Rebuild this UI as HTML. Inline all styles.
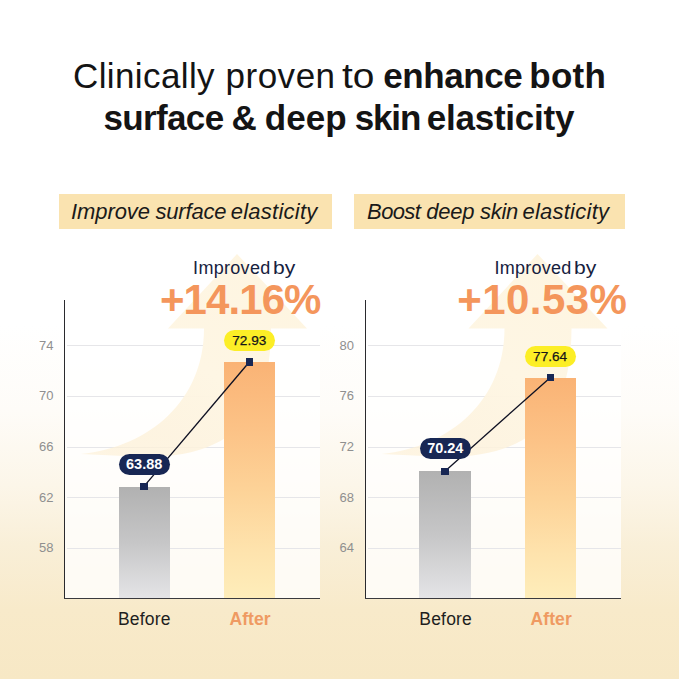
<!DOCTYPE html>
<html>
<head>
<meta charset="utf-8">
<title>Clinically proven</title>
<style>
  html, body { margin: 0; padding: 0; }
  body {
    width: 679px; height: 679px; overflow: hidden; position: relative;
    font-family: "Liberation Sans", sans-serif;
    background: linear-gradient(to bottom, #ffffff 0px, #ffffff 325px, #fefcf8 410px, #fcf6e9 485px, #f9efd8 545px, #f8eaca 610px, #f7e8c5 679px);
  }
  .abs { position: absolute; }
  .title {
    position: absolute; left: 0; width: 679px; text-align: center;
    color: #141414; font-size: 34px; line-height: 42px; white-space: nowrap;
  }
  .tt { position: absolute; color: #141414; font-size: 35px; line-height: 42px; white-space: nowrap; }
  .tt.b { font-weight: bold; }
  .tag { position: absolute; top: 194px; height: 35.3px; background: #fae3b0; }
  .tw { position: absolute; top: 198.5px; color: #1a1a1a; font-style: italic; font-size: 22px; line-height: normal; white-space: nowrap; }
  .chart { position: absolute; left: 0; top: 0; width: 679px; height: 679px; }
  .panel { position: absolute; top: 300px; height: 298px; width: 255px; background: rgba(255,255,255,0.78); }
  .yaxis { position: absolute; top: 300px; height: 299px; width: 1.5px; background: #2a2a2e; }
  .xaxis { position: absolute; top: 597.5px; height: 1.6px; width: 256px; background: #3a3a3e; }
  .grid { position: absolute; height: 1px; width: 253px; background: #e6e6e9; }
  .ylab { position: absolute; width: 30px; text-align: left; color: #8f8f8f; font-size: 13px; line-height: 14px; }
  .bar { position: absolute; width: 51.5px; }
  .bar.grey { background: linear-gradient(to bottom, #b1b1b1 0%, #c6c6c7 50%, #e4e4e6 100%); }
  .bar.org { background: linear-gradient(to bottom, #fab375 0%, #fcc286 28%, #fdd398 55%, #fee3ad 80%, #feedba 100%); }
  .mk { position: absolute; width: 7.5px; height: 7.5px; background: #182754; }
  .pill {
    position: absolute; height: 21.2px; width: 51px; border-radius: 11px;
    font-size: 13.6px; line-height: 22.2px; text-align: center; white-space: nowrap;
  }
  .pill.navy { background: #182754; color: #fff; font-weight: bold; font-size: 14.5px; line-height: 21.6px; }
  .pill.yel { background: #fcee26; color: #15151a; -webkit-text-stroke: 0.25px #15151a; }
  .xl { position: absolute; top: 607.6px; font-size: 17.5px; line-height: 22px; white-space: nowrap; text-align: center; width: 80px; }
  .xl.b { color: #1e1e1e; letter-spacing: 0.2px; }
  .xl.a { color: #ef9a62; font-weight: bold; letter-spacing: 0.1px; margin-left: 0.4px; }
  .imp { position: absolute; top: 258.2px; font-size: 18px; line-height: normal; color: #16213e; white-space: nowrap; }
  .pct { position: absolute; top: 275.6px; font-size: 42px; line-height: normal; color: #f4965c; font-weight: bold; white-space: nowrap; }
  svg.ov { position: absolute; left: 0; top: 0; }
</style>
</head>
<body>

<div class="tt" style="left:73px;top:55px;letter-spacing:0.39px;">Clinically</div>
<div class="tt" style="left:225.5px;top:55px;letter-spacing:0.51px;">proven</div>
<div class="tt" style="left:342.3px;top:55px;transform:scaleX(1.11);transform-origin:0 0;">to</div>
<div class="tt b" style="left:383.2px;top:55px;letter-spacing:-0.4px;">enhance</div>
<div class="tt b" style="left:529.3px;top:55px;letter-spacing:0.24px;">both</div>
<div class="tt b" style="left:103.5px;top:97px;letter-spacing:-0.65px;">surface</div>
<div class="tt b" style="left:231.5px;top:97px;">&amp;</div>
<div class="tt b" style="left:264.8px;top:97px;letter-spacing:0.02px;">deep</div>
<div class="tt b" style="left:354.8px;top:97px;letter-spacing:-1.18px;">skin</div>
<div class="tt b" style="left:426.7px;top:97px;letter-spacing:-0.22px;">elasticity</div>

<div class="tag" style="left:58.5px;width:273px;"></div>
<div class="tag" style="left:353.5px;width:271.5px;"></div>
<div class="tw" style="left:70.9px;letter-spacing:-0.06px;">Improve</div>
<div class="tw" style="left:155.4px;letter-spacing:-0.17px;">surface</div>
<div class="tw" style="left:230.7px;letter-spacing:0.25px;">elasticity</div>
<div class="tw" style="left:367.1px;letter-spacing:-0.63px;">Boost</div>
<div class="tw" style="left:426.3px;letter-spacing:-0.28px;">deep</div>
<div class="tw" style="left:479.9px;letter-spacing:-0.25px;">skin</div>
<div class="tw" style="left:522.4px;letter-spacing:0.25px;">elasticity</div>

<!-- LEFT CHART -->
<div class="panel" style="left:65px;"></div>
<div class="grid" style="left:66.5px;top:345px;"></div>
<div class="grid" style="left:66.5px;top:395.7px;"></div>
<div class="grid" style="left:66.5px;top:446.5px;"></div>
<div class="grid" style="left:66.5px;top:497px;"></div>
<div class="grid" style="left:66.5px;top:547.7px;"></div>
<div class="ylab" style="left:39px;top:338.5px;">74</div>
<div class="ylab" style="left:39px;top:389.2px;">70</div>
<div class="ylab" style="left:39px;top:440px;">66</div>
<div class="ylab" style="left:39px;top:490.5px;">62</div>
<div class="ylab" style="left:39px;top:541.2px;">58</div>

<!-- RIGHT CHART -->
<div class="panel" style="left:366px;"></div>
<div class="grid" style="left:367.5px;top:345px;"></div>
<div class="grid" style="left:367.5px;top:395.7px;"></div>
<div class="grid" style="left:367.5px;top:446.5px;"></div>
<div class="grid" style="left:367.5px;top:497px;"></div>
<div class="grid" style="left:367.5px;top:547.7px;"></div>
<div class="ylab" style="left:339.5px;top:338.5px;">80</div>
<div class="ylab" style="left:339.5px;top:389.2px;">76</div>
<div class="ylab" style="left:339.5px;top:440px;">72</div>
<div class="ylab" style="left:339.5px;top:490.5px;">68</div>
<div class="ylab" style="left:339.5px;top:541.2px;">64</div>

<!-- background arrows -->
<svg class="ov" width="679" height="679" viewBox="0 0 679 679">
  <defs>
    <linearGradient id="ag" gradientUnits="userSpaceOnUse" x1="237" y1="254" x2="100" y2="470">
      <stop offset="0" stop-color="#fef5e1" stop-opacity="1"/>
      <stop offset="0.45" stop-color="#fef6e4" stop-opacity="1"/>
      <stop offset="0.75" stop-color="#fdf2dc" stop-opacity="0.85"/>
      <stop offset="1" stop-color="#fdeed0" stop-opacity="0.55"/>
    </linearGradient>
  </defs>
  <path d="M237 254 L307 328.5 L271 328.5 C271 420 228 457 145 457 L81 454 C150 447 204 400 204 328.5 L168 328.5 Z" fill="url(#ag)"/>
  <g transform="translate(300.5 0)"><path d="M237 254 L307 328.5 L271 328.5 C271 420 228 457 145 457 L81 454 C150 447 204 400 204 328.5 L168 328.5 Z" fill="url(#ag)"/></g>
</svg>

<div class="bar grey" style="left:118.5px;top:486.7px;height:111.3px;"></div>
<div class="bar org" style="left:223.7px;top:362px;height:236px;"></div>
<div class="yaxis" style="left:63.7px;"></div>
<div class="xaxis" style="left:63.7px;"></div>
<div class="bar grey" style="left:419.4px;top:471px;height:127px;"></div>
<div class="bar org" style="left:524.5px;top:377.5px;height:220.5px;"></div>
<div class="yaxis" style="left:364.7px;"></div>
<div class="xaxis" style="left:364.7px;"></div>

<!-- connecting lines -->
<svg class="ov" width="679" height="679" viewBox="0 0 679 679">
  <line x1="144" y1="486.4" x2="249.3" y2="362" stroke="#0e1022" stroke-width="1.35"/>
  <line x1="445" y1="471.2" x2="550.4" y2="377.4" stroke="#0e1022" stroke-width="1.35"/>
</svg>

<div class="mk" style="left:140.3px;top:482.7px;"></div>
<div class="mk" style="left:245.5px;top:358.3px;"></div>
<div class="mk" style="left:441.3px;top:467.5px;"></div>
<div class="mk" style="left:546.7px;top:373.7px;"></div>

<div class="pill navy" style="left:118.7px;top:454.2px;">63.88</div>
<div class="pill yel" style="left:223.8px;top:329.5px;">72.93</div>
<div class="pill navy" style="left:419.8px;top:438.2px;">70.24</div>
<div class="pill yel" style="left:524.6px;top:345.5px;">77.64</div>

<div class="imp" style="left:193.1px;letter-spacing:0.3px;">Improved</div>
<div class="imp" style="left:272.9px;transform:scaleX(1.17);transform-origin:0 0;">by</div>
<div class="pct" style="left:160px;letter-spacing:-0.92px;">+14.16%</div>
<div class="imp" style="left:494.4px;letter-spacing:0.25px;">Improved</div>
<div class="imp" style="left:573.7px;transform:scaleX(1.17);transform-origin:0 0;">by</div>
<div class="pct" style="left:457.3px;letter-spacing:0.42px;">+10.53%</div>

<div class="xl b" style="left:104.4px;">Before</div>
<div class="xl a" style="left:209.7px;">After</div>
<div class="xl b" style="left:405.7px;">Before</div>
<div class="xl a" style="left:510.8px;">After</div>

</body>
</html>
